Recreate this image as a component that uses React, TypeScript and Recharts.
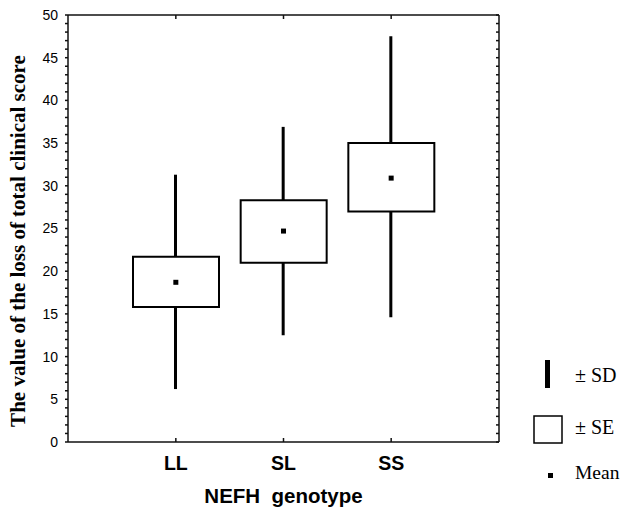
import React from "react"
import {
  ComposedChart,
  Bar,
  Scatter,
  XAxis,
  YAxis,
  Legend
} from "recharts"

// values
const genotypes = ["LL", "SL", "SS"]
const meanValues = [18.7, 24.7, 30.9]
const seLower = [15.8, 21.0, 27.0]
const seUpper = [21.7, 28.3, 35.0]
const sdLower = [6.2, 12.5, 14.6]
const sdUpper = [31.3, 36.9, 47.5]

const yTicks = Array.from({ length: 51 }, (_, i) => i)

const rows = genotypes.map((name, i) => ({
  name,
  mean: meanValues[i],
  se: [seLower[i], seUpper[i]],
  sd: [sdLower[i], sdUpper[i]]
}))

const sans = "'Liberation Sans', Arial, sans-serif"
const serif = "'Liberation Serif', 'Times New Roman', serif"
const axisColor = "#111"

const MeanMark = (props: any) => {
  const { cx, cy } = props
  return <rect x={cx - 2.5} y={cy - 2.5} width={5} height={5} fill="#000" />
}

const YTitle = (props: any) => {
  const { viewBox, value } = props
  const x = viewBox.x + 25
  const y = viewBox.y + viewBox.height / 2 + 12.5
  return (
    <text
      x={x}
      y={y}
      transform={`rotate(-90, ${x}, ${y})`}
      textAnchor="middle"
      fontFamily={serif}
      fontWeight="bold"
      fontSize={21}
      fill="#000"
    >
      {value}
    </text>
  )
}

const LegendBox = () => (
  <svg width={99} height={140}>
    <rect x={20} y={10} width={5} height={28} fill="#000" />
    <text x={50} y={31.7} fontFamily={serif} fontSize={20} fill="#000">
      ± SD
    </text>
    <rect x={9} y={66} width={28} height={27} fill="#fff" stroke="#000" strokeWidth={1.5} />
    <text x={50} y={84.3} fontFamily={serif} fontSize={20} fill="#000">
      ± SE
    </text>
    <rect x={23} y={123} width={5} height={5} fill="#000" />
    <text x={50} y={129.3} fontFamily={serif} fontSize={19.5} fill="#000">
      Mean
    </text>
  </svg>
)

export default function App() {

  return (

    <div style={{ position: "absolute", left: 0, top: 0, width: 624, height: 508, background: "#fff" }}>

      <ComposedChart
        width={624}
        height={508}
        data={rows}
        margin={{ top: 5, right: 120, bottom: 4, left: 0 }}
      >

        <XAxis
          xAxisId="x"
          dataKey="name"
          type="category"
          padding={{ left: 54, right: 54 }}
          height={62}
          tickSize={-4}
          tickMargin={18}
          stroke={axisColor}
          strokeWidth={1.5}
          tick={{ fill: "#000", fontFamily: sans, fontWeight: "bold", fontSize: 19.5 }}
          label={{
            value: "NEFH\u00a0\u00a0genotype",
            position: "insideBottom",
            offset: 1,
            fill: "#000",
            fontFamily: sans,
            fontWeight: "bold",
            fontSize: 20.5
          }}
        />

        <XAxis
          xAxisId="top"
          orientation="top"
          dataKey="name"
          type="category"
          padding={{ left: 54, right: 54 }}
          height={10}
          tickSize={-4}
          stroke={axisColor}
          strokeWidth={1.5}
          tickFormatter={() => ""}
        />

        <YAxis
          type="number"
          domain={[0, 50]}
          ticks={yTicks}
          interval={0}
          width={68}
          tickSize={3}
          tickMargin={7}
          stroke={axisColor}
          strokeWidth={1.5}
          tickFormatter={(v: number) => (v % 5 === 0 ? String(v) : "")}
          tick={{ fill: "#000", fontFamily: sans, fontSize: 14 }}
          label={{ value: "The value of the loss of total clinical score", content: YTitle }}
        />

        <YAxis
          yAxisId="right"
          orientation="right"
          type="number"
          domain={[0, 50]}
          allowDataOverflow
          ticks={yTicks}
          interval={0}
          width={5}
          tickSize={-3}
          stroke={axisColor}
          strokeWidth={1.5}
          tickFormatter={() => ""}
        />

        <Bar
          xAxisId="top"
          dataKey="sd"
          barSize={3}
          fill="#000"
          isAnimationActive={false}
        />

        <Bar
          xAxisId="x"
          dataKey="se"
          barSize={86}
          fill="#fff"
          stroke="#000"
          strokeWidth={2}
          isAnimationActive={false}
        />

        <Scatter
          xAxisId="x"
          dataKey="mean"
          shape={MeanMark}
          isAnimationActive={false}
        />

        <Legend
          layout="horizontal"
          verticalAlign="middle"
          align="center"
          content={LegendBox}
          wrapperStyle={{ position: "absolute", left: 525, top: 350, width: 99, height: 140 }}
        />

      </ComposedChart>

    </div>

  )

}
